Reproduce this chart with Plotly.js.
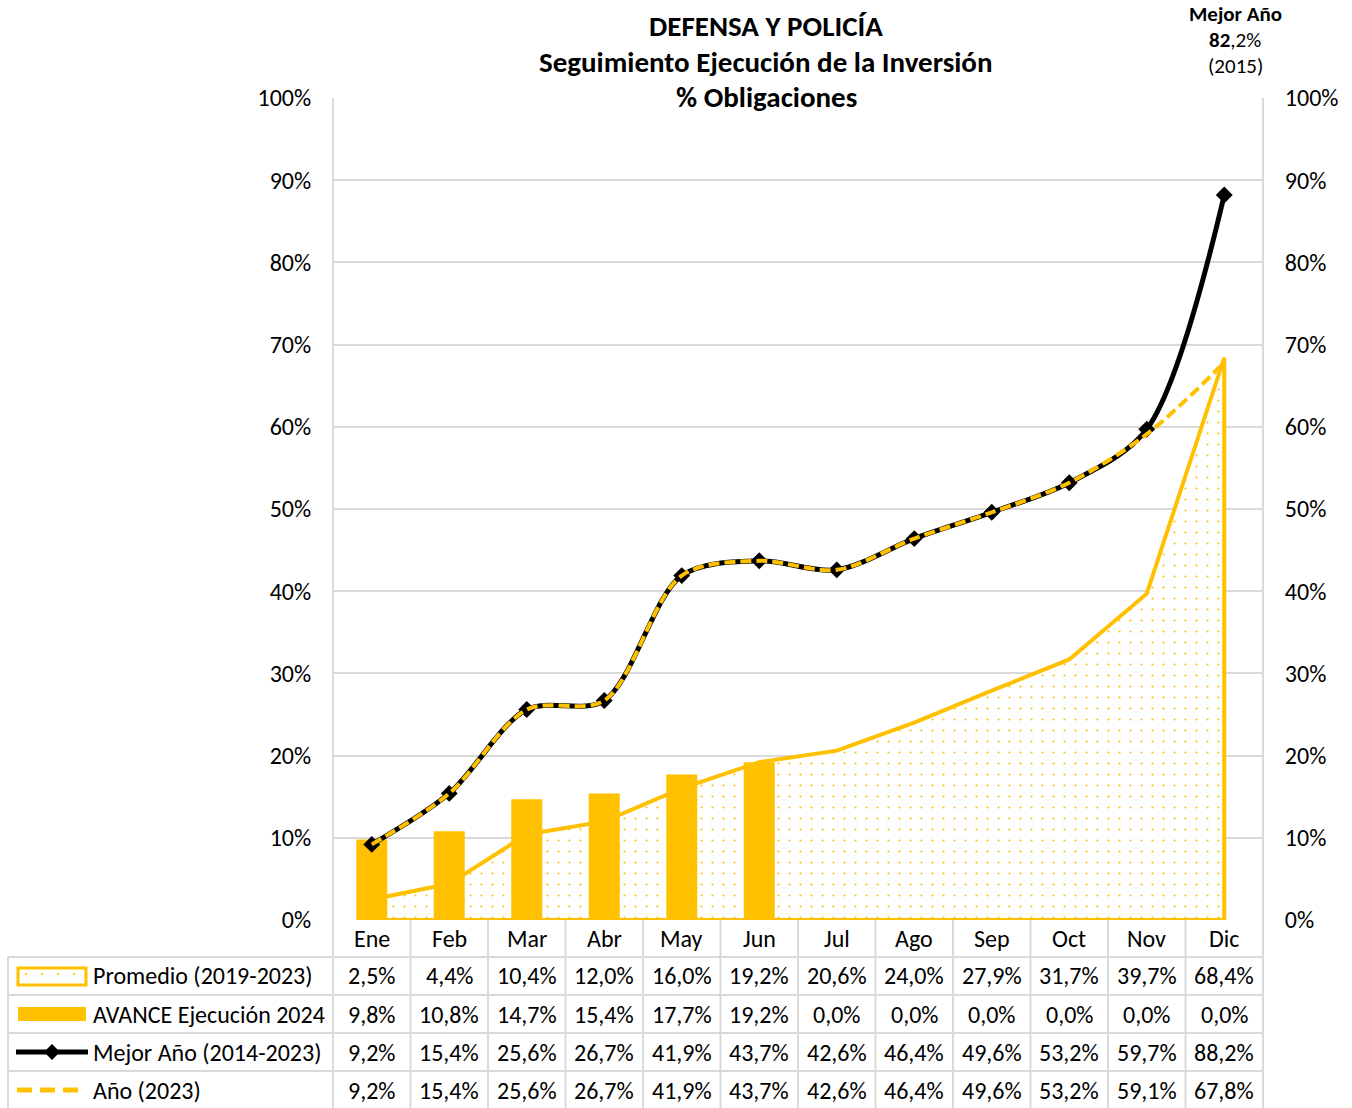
<!DOCTYPE html>
<html>
<head>
<meta charset="utf-8">
<script src="https://cdn.plot.ly/plotly-3.0.1.min.js"></script>
<style>html,body{margin:0;padding:0;background:#fff;}#chart{width:1352px;height:1108px;}</style>
</head>
<body>
<div id="chart"></div>
<script>
// ---- Data ----
const months = ['Ene','Feb','Mar','Abr','May','Jun','Jul','Ago','Sep','Oct','Nov','Dic'];
const promedio = [2.5,4.4,10.4,12.0,16.0,19.2,20.6,24.0,27.9,31.7,39.7,68.4];
const avance2024 = [9.8,10.8,14.7,15.4,17.7,19.2,0.0,0.0,0.0,0.0,0.0,0.0];
const mejorAnio = [9.2,15.4,25.6,26.7,41.9,43.7,42.6,46.4,49.6,53.2,59.7,88.2];
const anio2023 = [9.2,15.4,25.6,26.7,41.9,43.7,42.6,46.4,49.6,53.2,59.1,67.8];
const seriesNames = ['Promedio (2019-2023)','AVANCE Ejecución 2024','Mejor Año (2014-2023)','Año (2023)'];
const tableRows = [promedio, avance2024, mejorAnio, anio2023];
const titleLines = ['DEFENSA Y POLICÍA','Seguimiento Ejecución de la Inversión','% Obligaciones'];
const bestYearNote = ['<b>Mejor Año</b>','<b>82</b>,2%','(2015)'];

// ---- Style / layout constants ----
const W = 1352, H = 1108;
const L = 333, R = 1263, T = 98, B = 920;
const YEL = '#FFC000', GRID = '#D9D9D9';
const FONT = 'Carlito, Calibri, Lato, sans-serif';
const FS = 24;
const px = x => (x - L) / (R - L);
const py = y => (B - y) / (B - T);
const fmt = v => v.toFixed(1).replace('.', ',') + '%';

// ---- Traces ----
const tPromedio = {
  type: 'scatter', mode: 'lines', name: seriesNames[0],
  x: months.concat([months[months.length-1], months[0], months[0]]),
  y: promedio.concat([0, 0, promedio[0]]),
  fill: 'toself', fillcolor: 'white',
  fillpattern: {shape: '.', fgcolor: YEL, bgcolor: 'white', size: 11, solidity: 0.03},
  line: {color: YEL, width: 4},
  xaxis: 'x', yaxis: 'y', showlegend: false, hoverinfo: 'skip'
};
const tAvance = {
  type: 'bar', name: seriesNames[1], x: months, y: avance2024,
  marker: {color: YEL}, width: 0.4,
  xaxis: 'x', yaxis: 'y2', showlegend: false, hoverinfo: 'skip'
};
const tMejor = {
  type: 'scatter', mode: 'lines+markers', name: seriesNames[2], x: months, y: mejorAnio,
  line: {color: 'black', width: 5, shape: 'spline', smoothing: 0.9},
  marker: {symbol: 'diamond', size: 13, color: 'black'},
  xaxis: 'x', yaxis: 'y2', showlegend: false, hoverinfo: 'skip'
};
const tAnio = {
  type: 'scatter', mode: 'lines', name: seriesNames[3], x: months, y: anio2023,
  line: {color: YEL, width: 4, dash: '11px,5px', shape: 'spline', smoothing: 0.9},
  xaxis: 'x', yaxis: 'y2', showlegend: false, hoverinfo: 'skip'
};

// ---- Annotations ----
const annotations = [];
titleLines.forEach((t, i) => {
  annotations.push({xref: 'paper', yref: 'paper', x: px(766), y: py([26, 62, 97][i]),
    xanchor: 'center', yanchor: 'middle', showarrow: false,
    text: '<b>' + t + '</b>', font: {family: FONT, size: 29, color: 'black'}});
});
bestYearNote.forEach((t, i) => {
  annotations.push({xref: 'paper', yref: 'paper', x: px(1235), y: py([14, 40, 66][i]),
    xanchor: 'center', yanchor: 'middle', showarrow: false,
    text: t, font: {family: FONT, size: 21, color: 'black'}});
});
months.forEach(m => {
  annotations.push({xref: 'x', yref: 'paper', x: m, y: py(938),
    xanchor: 'center', yanchor: 'middle', showarrow: false,
    text: m, font: {family: FONT, size: FS, color: 'black'}});
});
const rowY = [976, 1014, 1052, 1090];
tableRows.forEach((row, r) => {
  row.forEach((v, i) => {
    annotations.push({xref: 'x', yref: 'paper', x: months[i], y: py(rowY[r]),
      xanchor: 'center', yanchor: 'middle', showarrow: false,
      text: fmt(v), font: {family: FONT, size: FS, color: 'black'}});
  });
  annotations.push({xref: 'paper', yref: 'paper', x: px(91), y: py(rowY[r]),
    xanchor: 'left', yanchor: 'middle', showarrow: false,
    text: seriesNames[r], font: {family: FONT, size: FS, color: 'black'}});
});

// ---- Shapes (table grid + legend keys) ----
const shapes = [];
const gl = {color: GRID, width: 2};
shapes.push({type: 'line', xref: 'paper', yref: 'paper', x0: 0, x1: 0, y0: 1, y1: py(1108), line: gl});
shapes.push({type: 'line', xref: 'paper', yref: 'paper', x0: 1, x1: 1, y0: 1, y1: py(1108), line: gl});
for (let i = 1; i < months.length; i++) {
  shapes.push({type: 'line', xref: 'paper', yref: 'paper', x0: i / months.length, x1: i / months.length,
    y0: 0, y1: py(1108), line: gl});
}
shapes.push({type: 'line', xref: 'paper', yref: 'paper', x0: px(8), x1: px(8), y0: py(957), y1: py(1108), line: gl});
[957, 995, 1033, 1071].forEach(y => {
  shapes.push({type: 'line', xref: 'paper', yref: 'paper', x0: px(8), x1: 1, y0: py(y), y1: py(y), line: gl});
});
// legend keys
shapes.push({type: 'rect', xref: 'paper', yref: 'paper', x0: px(18), x1: px(86), y0: py(985), y1: py(968),
  line: {color: YEL, width: 3}, fillcolor: 'white'});
shapes.push({type: 'line', xref: 'paper', yref: 'paper', x0: px(25), x1: px(84), y0: py(974), y1: py(974),
  line: {color: YEL, width: 2, dash: '2px,14px'}});
shapes.push({type: 'rect', xref: 'paper', yref: 'paper', x0: px(18), x1: px(86), y0: py(1021), y1: py(1007),
  line: {width: 0}, fillcolor: YEL});
shapes.push({type: 'line', xref: 'paper', yref: 'paper', x0: px(16), x1: px(88), y0: py(1052), y1: py(1052),
  line: {color: 'black', width: 5}});
shapes.push({type: 'path', xref: 'paper', yref: 'paper',
  path: 'M' + px(52) + ',' + py(1044) + ' L' + px(60) + ',' + py(1052) + ' L' + px(52) + ',' + py(1060) + ' L' + px(44) + ',' + py(1052) + ' Z',
  line: {width: 0}, fillcolor: 'black'});
shapes.push({type: 'line', xref: 'paper', yref: 'paper', x0: px(17), x1: px(82), y0: py(1090), y1: py(1090),
  line: {color: YEL, width: 5, dash: '15px,8px'}});

const yCommon = {
  range: [0, 100], dtick: 10, tick0: 0, ticksuffix: '%',
  zeroline: false, showline: false, fixedrange: true,
  ticks: 'outside', ticklen: 16, tickcolor: 'rgba(0,0,0,0)',
  tickfont: {family: FONT, size: FS, color: 'black'}
};

const layout = {
  width: W, height: H,
  margin: {l: L, r: W - R, t: T, b: H - B, pad: 0},
  paper_bgcolor: 'white', plot_bgcolor: 'white',
  showlegend: false, hovermode: false,
  font: {family: FONT, color: 'black'},
  xaxis: {type: 'category', categoryarray: months, categoryorder: 'array',
    range: [-0.5, 11.5], showgrid: false, zeroline: false, showline: false,
    showticklabels: false, ticks: ''},
  yaxis: Object.assign({}, yCommon, {side: 'left', showgrid: true, gridcolor: GRID, gridwidth: 2}),
  yaxis2: Object.assign({}, yCommon, {side: 'right', overlaying: 'y', showgrid: false}),
  annotations: annotations,
  shapes: shapes
};

Plotly.newPlot('chart', [tPromedio, tAvance, tMejor, tAnio], layout, {displayModeBar: false, staticPlot: true});
</script>
</body>
</html>
